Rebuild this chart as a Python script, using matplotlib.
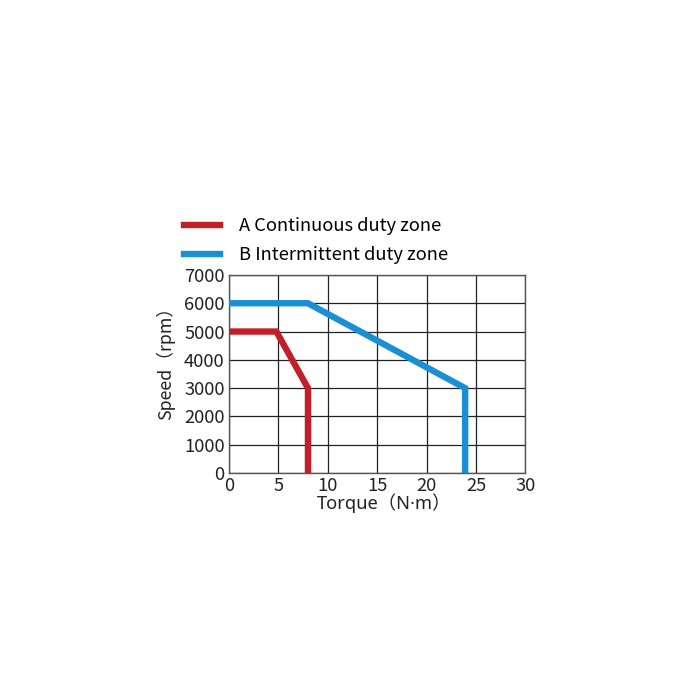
import numpy as np
import matplotlib
matplotlib.use("Agg")
import matplotlib.pyplot as plt

plt.rcParams["font.family"] = ["Noto Sans CJK SC", "DejaVu Sans"]

# curve data
torque_a = [0, 4.8, 8, 8]
speed_a = [5000, 5000, 3000, 0]
torque_b = [0, 8, 23.9, 23.9]
speed_b = [6000, 6000, 3000, 0]

labels = ["A Continuous duty zone", "B Intermittent duty zone"]
x_ticks = [0, 5, 10, 15, 20, 25, 30]
y_ticks = [0, 1000, 2000, 3000, 4000, 5000, 6000, 7000]

red = "#c21f2a"
blue = "#1a8fd3"
fs = 13.2

fig = plt.figure(figsize=(7, 7), dpi=100)
ax = fig.add_axes([0.327, 0.3243, 0.4236, 0.2829])

ax.plot(torque_a, speed_a, color=red, lw=4.6, solid_joinstyle="miter", label=labels[0], zorder=3)
ax.plot(torque_b, speed_b, color=blue, lw=4.6, solid_joinstyle="miter", label=labels[1], zorder=3)

ax.set_xlim(0, 30)
ax.set_ylim(0, 7000)
ax.set_xticks(x_ticks)
ax.set_yticks(y_ticks)
ax.grid(True, color="#222222", lw=0.9)
ax.tick_params(length=0, labelsize=fs, pad=3, colors="#222222")
for s in ax.spines.values():
    s.set_color("#555555")
    s.set_linewidth(1)

ax.set_xlabel("Torque（N·m）", fontsize=fs, labelpad=-1, color="#222222",
              family=["Noto Sans", "Noto Sans CJK SC"])
ax.xaxis.label.set_x(0.525)
ax.set_ylabel("Speed（rpm）", fontsize=12.8, color="#222222")
ax.yaxis.set_label_coords(-0.18, 0.575)

ax.legend(loc="lower left", bbox_to_anchor=(-0.19, 1.0), frameon=False,
          fontsize=fs, handlelength=2.0, handletextpad=1.0, labelspacing=0.6,
          borderaxespad=0.2)

fig.savefig("out.png", dpi=100)
